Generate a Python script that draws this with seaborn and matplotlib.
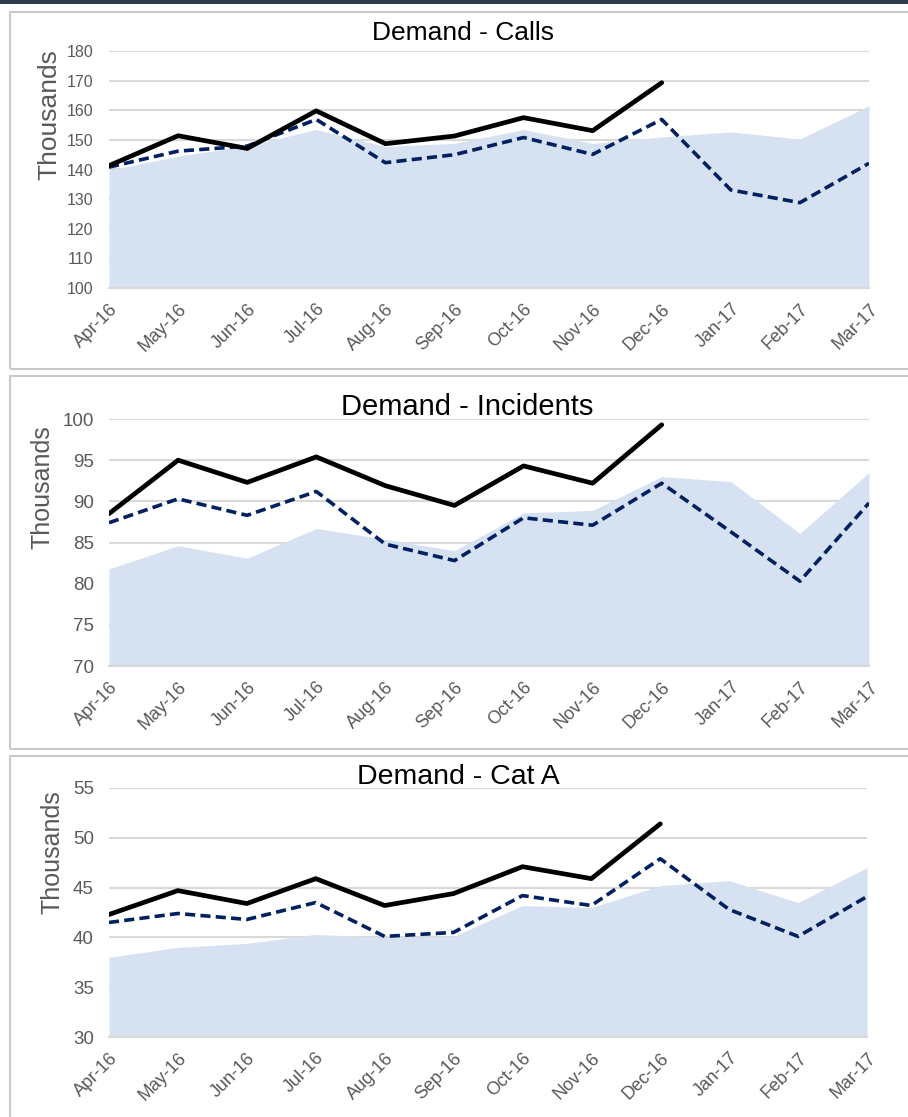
import numpy as np
import pandas as pd
import matplotlib
matplotlib.use("Agg")
import matplotlib.pyplot as plt
from matplotlib.patches import Rectangle
import seaborn as sns

sns.set_theme(style="white")
plt.rcParams["font.family"] = ["Liberation Sans", "DejaVu Sans"]

months = ["Apr-16", "May-16", "Jun-16", "Jul-16", "Aug-16", "Sep-16",
          "Oct-16", "Nov-16", "Dec-16", "Jan-17", "Feb-17", "Mar-17"]

# Calls (thousands)
calls_actual = [141.3, 151.4, 147.1, 159.8, 148.7, 151.3, 157.5, 153.1, 169.3]
calls_plan = [140.8, 146.2, 147.9, 156.9, 142.3, 145.0, 150.8, 145.1, 156.9, 133.1, 128.8, 142.1]
calls_last_year = [139.8, 144.5, 148.0, 153.5, 147.8, 148.8, 153.5, 148.8, 151.0, 152.7, 150.3, 161.5]

# Incidents (thousands)
inc_actual = [88.5, 95.0, 92.3, 95.4, 91.9, 89.5, 94.3, 92.2, 99.3]
inc_plan = [87.4, 90.3, 88.3, 91.2, 84.8, 82.8, 88.0, 87.1, 92.2, 86.3, 80.3, 89.8]
inc_last_year = [81.8, 84.6, 83.1, 86.7, 85.4, 84.0, 88.6, 88.9, 93.0, 92.4, 86.1, 93.5]

# Cat A (thousands)
cata_actual = [42.3, 44.7, 43.4, 45.9, 43.2, 44.4, 47.1, 45.9, 51.4]
cata_plan = [41.5, 42.4, 41.8, 43.5, 40.1, 40.5, 44.2, 43.2, 47.9, 42.8, 40.1, 44.1]
cata_last_year = [38.0, 39.0, 39.4, 40.3, 40.0, 40.1, 43.2, 43.0, 45.2, 45.7, 43.5, 47.0]

W, H = 908, 1117
fig = plt.figure(figsize=(W / 100, H / 100), dpi=100)

GRID = "#D9D9D9"
TEXT = "#595959"
AREA = "#D6E2F2"
NAVY = "#002060"


def px_rect(l, r, t, b):
    return [l / W, 1 - b / H, (r - l) / W, (b - t) / H]


# Dark header strip and panel frames
fig.patches.append(Rectangle((0, 1 - 4 / H), 1, 4 / H, transform=fig.transFigure,
                             facecolor="#2F3D4F", edgecolor="none"))
for top, bottom in [(12, 369), (376, 749), (756, 1130)]:
    fig.patches.append(Rectangle((10 / W, 1 - bottom / H), 920 / W, (bottom - top) / H,
                                 transform=fig.transFigure, facecolor="none",
                                 edgecolor="#C8C8C8", linewidth=1.5))

panels = [
    dict(name="Demand - Calls", actual=calls_actual, plan=calls_plan, ly=calls_last_year,
         ylim=(100, 180), step=10, rect=(109, 869, 51, 288), title_pos=(463, 33, 19),
         tfs=11.5, lfs=19, lab=(49, 0.73)),
    dict(name="Demand - Incidents", actual=inc_actual, plan=inc_plan, ly=inc_last_year,
         ylim=(70, 100), step=5, rect=(109, 869, 419, 666), title_pos=(467, 407, 21),
         tfs=13.5, lfs=18, lab=(43, 0.725)),
    dict(name="Demand - Cat A", actual=cata_actual, plan=cata_plan, ly=cata_last_year,
         ylim=(30, 55), step=5, rect=(109, 867, 788, 1037), title_pos=(458, 777, 20.5),
         tfs=13.5, lfs=18, lab=(53, 0.743)),
]

for p in panels:
    l, r, t, b = p["rect"]
    ax = fig.add_axes(px_rect(l, r, t, b))
    x = np.arange(len(months))
    df = pd.DataFrame({
        "x": x,
        "actual": p["actual"] + [np.nan] * (len(months) - len(p["actual"])),
        "plan": p["plan"],
        "ly": p["ly"],
    })
    ax.fill_between(df["x"], p["ylim"][0], df["ly"], color=AREA, linewidth=0, zorder=1)
    sns.lineplot(data=df, x="x", y="plan", ax=ax, color=NAVY, linewidth=2.6, zorder=3)
    ax.lines[-1].set_dashes((2.8, 1.45))
    sns.lineplot(data=df.dropna(), x="x", y="actual", ax=ax, color="black",
                 linewidth=3.4, zorder=4)
    ax.lines[-1].set_solid_capstyle("round")

    ax.set_xlim(0, len(months) - 1)
    ax.set_ylim(*p["ylim"])
    ax.set_yticks(np.arange(p["ylim"][0], p["ylim"][1] + 0.1, p["step"]))
    ax.set_xticks(x)
    ax.set_xticklabels(months, rotation=45, ha="right", rotation_mode="anchor",
                       fontsize=13, color=TEXT)
    ax.tick_params(axis="y", length=0, pad=11, labelsize=p["tfs"], labelcolor=TEXT)
    ax.tick_params(axis="x", length=5, width=1.2, color=GRID, pad=4)
    ax.grid(axis="y", color=GRID, linewidth=1.5, zorder=0)
    ax.grid(axis="x", visible=False)
    ax.set_axisbelow(True)
    for s in ["left", "right", "top"]:
        ax.spines[s].set_visible(False)
    ax.spines["bottom"].set_color(GRID)
    ax.spines["bottom"].set_linewidth(1.5)
    ax.set_xlabel("")
    ax.set_ylabel("Thousands", fontsize=p["lfs"], color=TEXT)
    ax.yaxis.label.set_va("center")
    lx, ly_frac = p["lab"]
    ax.yaxis.set_label_coords((lx - l) / (r - l), ly_frac)
    ax.set_facecolor("none")
    tx, ty, tfs = p["title_pos"]
    fig.text(tx / W, 1 - ty / H, p["name"], ha="center", va="center",
             fontsize=tfs, color="black")

fig.savefig("out.png", dpi=100)
